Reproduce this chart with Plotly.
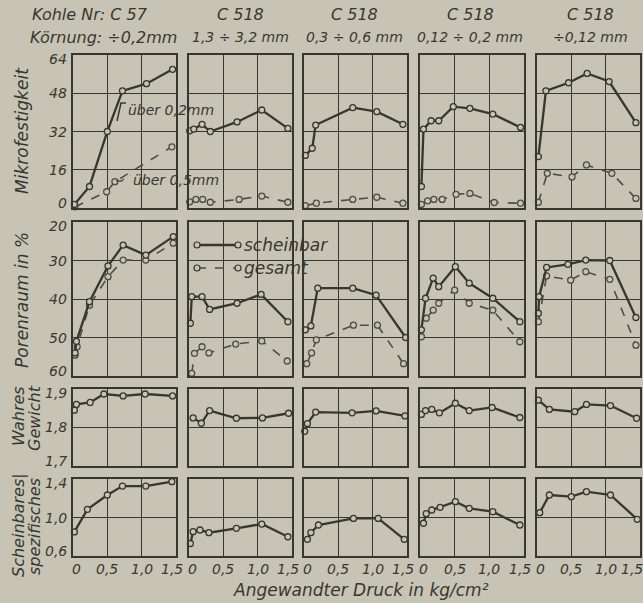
import plotly.graph_objects as go

# ---------------- data ----------------
columns_title1 = ["Kohle Nr: C 57", "C 518", "C 518", "C 518", "C 518"]
columns_title2 = ["Körnung: ÷0,2mm", "1,3 ÷ 3,2 mm", "0,3 ÷ 0,6 mm", "0,12 ÷ 0,2 mm", "÷0,12 mm"]

x_ticks = [0, 0.5, 1.0, 1.5]
x_ticktext = ["0", "0,5", "1,0", "1,5"]

# Row 1: Mikrofestigkeit, über 0,2 mm (solid)
mf02_x = [
    [0.02, 0.24, 0.5, 0.72, 1.07, 1.45],
    [0.01, 0.07, 0.19, 0.31, 0.70, 1.06, 1.44],
    [0.02, 0.12, 0.17, 0.71, 1.06, 1.44],
    [0.02, 0.05, 0.16, 0.27, 0.48, 0.72, 1.05, 1.45],
    [0.02, 0.13, 0.46, 0.73, 1.05, 1.44],
]
mf02_y = [
    [1.5, 9, 32, 49, 52, 58],
    [32.3, 33, 35, 32, 36, 41, 33.3],
    [22, 25, 34.7, 42, 40.3, 35],
    [9, 33, 36.5, 36.5, 42.4, 41.7, 39.3, 33.7],
    [21.5, 49, 52.4, 56.3, 52.9, 35.7],
]
# Row 1: Mikrofestigkeit, über 0,5 mm (dashed)
mf05_x = [
    [0.03, 0.49, 0.61, 1.44],
    [0.01, 0.1, 0.2, 0.31, 0.73, 1.06, 1.44],
    [0.02, 0.18, 0.71, 1.06, 1.44],
    [0.02, 0.11, 0.2, 0.32, 0.52, 0.72, 1.07, 1.45],
    [0.02, 0.15, 0.51, 0.72, 1.09, 1.44],
]
mf05_y = [
    [0.5, 6.8, 11, 25.6],
    [2.6, 3.6, 3.6, 2.4, 3.6, 5, 2.4],
    [1, 2, 3.6, 4.5, 2],
    [1.5, 3, 3.6, 3.6, 5.7, 6.1, 2.3, 2],
    [2.4, 14.5, 13, 18, 14.5, 4],
]
# Row 2: Porenraum scheinbar (solid)
ps_x = [
    [0.03, 0.05, 0.24, 0.51, 0.73, 1.06, 1.46],
    [0.02, 0.04, 0.19, 0.3, 0.7, 1.05, 1.44],
    [0.02, 0.1, 0.2, 0.71, 1.05, 1.48],
    [0.02, 0.08, 0.19, 0.27, 0.51, 0.71, 1.05, 1.44],
    [0.02, 0.03, 0.14, 0.45, 0.71, 1.06, 1.44],
]
ps_y = [
    [54, 51, 40.7, 31.4, 26, 28.6, 23.8],
    [46.3, 39.4, 39.4, 42.7, 41.1, 38.8, 45.9],
    [48, 47, 37.2, 37.2, 39, 50],
    [48, 39.8, 34.6, 36.8, 31.6, 35.9, 39.8, 45.9],
    [43.7, 39.4, 31.8, 31, 29.9, 30, 44.8],
]
# Row 2: Porenraum gesamt (dashed)
pg_x = [
    [0.03, 0.06, 0.24, 0.51, 0.73, 1.06, 1.46],
    [0.04, 0.08, 0.19, 0.29, 0.68, 1.06, 1.43],
    [0.04, 0.11, 0.18, 0.72, 1.07, 1.45],
    [0.02, 0.09, 0.19, 0.27, 0.5, 0.71, 1.05, 1.44],
    [0.02, 0.14, 0.49, 0.71, 1.06, 1.44],
]
pg_y = [
    [54.6, 52.4, 41.6, 34.2, 29.9, 29.9, 25.5],
    [59.3, 54.1, 52.4, 54, 51.7, 50.9, 56.1],
    [56.8, 54, 50.6, 46.8, 46.8, 56.8],
    [49.8, 45, 42.9, 41.1, 37.7, 41.1, 42.9, 51.1],
    [45.9, 34, 35.1, 32.9, 34.9, 52],
]
# Row 3: Wahres spezifisches Gewicht
wg_x = [
    [0.02, 0.05, 0.25, 0.45, 0.73, 1.05, 1.45],
    [0.06, 0.18, 0.3, 0.69, 1.07, 1.45],
    [0.01, 0.05, 0.17, 0.7, 1.05, 1.47],
    [0.02, 0.08, 0.17, 0.28, 0.51, 0.71, 1.04, 1.44],
    [0.02, 0.18, 0.55, 0.72, 1.07, 1.45],
]
wg_y = [
    [1.845, 1.86, 1.865, 1.887, 1.882, 1.887, 1.882],
    [1.825, 1.811, 1.844, 1.824, 1.825, 1.837],
    [1.79, 1.81, 1.84, 1.838, 1.843, 1.83],
    [1.834, 1.844, 1.847, 1.838, 1.863, 1.844, 1.852, 1.826],
    [1.871, 1.847, 1.841, 1.86, 1.857, 1.824],
]
# Row 4: Scheinbares spezifisches Gewicht
sg_x = [
    [0.02, 0.21, 0.5, 0.72, 1.06, 1.44],
    [0.02, 0.06, 0.16, 0.29, 0.69, 1.06, 1.44],
    [0.05, 0.1, 0.21, 0.72, 1.08, 1.46],
    [0.05, 0.09, 0.17, 0.29, 0.51, 0.71, 1.05, 1.44],
    [0.04, 0.18, 0.5, 0.72, 1.07, 1.46],
]
sg_y = [
    [0.85, 1.085, 1.234, 1.327, 1.327, 1.372],
    [0.73, 0.853, 0.87, 0.842, 0.888, 0.932, 0.80],
    [0.773, 0.842, 0.922, 0.99, 0.99, 0.773],
    [0.94, 1.04, 1.078, 1.106, 1.164, 1.095, 1.06, 0.922],
    [1.05, 1.234, 1.216, 1.268, 1.234, 0.981],
]

row_ranges = [[0, 64], [60, 20], [1.7, 1.9], [0.6, 1.4]]
row_tickvals = [[0, 16, 32, 48, 64], [20, 30, 40, 50, 60], [1.7, 1.8, 1.9], [0.6, 1.0, 1.4]]
row_ticktext = [["0", "16", "32", "48", "64"], ["20", "30", "40", "50", "60"],
                ["1,7", "1,8", "1,9"], ["0,6", "1,0", "1,4"]]

# ---------------- style / layout ----------------
W, H = 643, 603
BG = "#c7c4b5"
INK = "#38372f"
INK2 = "#4e4d45"
FONT = "DejaVu Sans"

col_px = [(73, 176), (189, 292), (304, 407), (420, 524), (537, 640)]
row_px = [(55, 208), (222, 376), (389, 466), (479, 556)]

fig = go.Figure()
layout = {}
annotations = []


def axname(k):
    return "" if k == 1 else str(k)


def it(s):
    return "<i>" + s + "</i>"


def add_series(k, xs, ys, dashed):
    fig.add_trace(go.Scatter(
        x=xs, y=ys, mode="lines+markers",
        xaxis="x" + axname(k), yaxis="y" + axname(k),
        line=dict(color=INK2 if dashed else INK, width=1.6 if dashed else 2.3,
                  dash="dash" if dashed else "solid"),
        marker=dict(symbol="circle", size=6, color=BG,
                    line=dict(color=INK2 if dashed else INK, width=1.3)),
        cliponaxis=False, showlegend=False, hoverinfo="skip"))


x_tick_shift = [3, 0, 0, -4]

for r in range(4):
    for c in range(5):
        k = r * 5 + c + 1
        x0, x1 = col_px[c]
        y0, y1 = row_px[r]
        layout["xaxis" + axname(k)] = dict(
            domain=[x0 / W, x1 / W], anchor="y" + axname(k), range=[0, 1.5],
            tickvals=x_ticks, showticklabels=False,
            showgrid=True, gridcolor=INK, gridwidth=1, zeroline=False,
            showline=True, mirror=True, linecolor=INK, linewidth=1.6, ticks="",
        )
        layout["yaxis" + axname(k)] = dict(
            domain=[1 - y1 / H, 1 - y0 / H], anchor="x" + axname(k), range=row_ranges[r],
            tickvals=row_tickvals[r], showticklabels=False,
            showgrid=True, gridcolor=INK, gridwidth=1, zeroline=False,
            showline=True, mirror=True, linecolor=INK, linewidth=1.6, ticks="",
        )
        if r == 3:
            for j, (tv, tt, sh) in enumerate(zip(x_ticks, x_ticktext, x_tick_shift)):
                if c == 4 and j == 3:
                    sh = -8
                annotations.append(dict(
                    text=it(tt), x=tv, xref="x" + axname(k), y=1 - 569 / H, yref="paper",
                    xanchor="center", yanchor="middle", xshift=sh, showarrow=False,
                    font=dict(family=FONT, size=14, color=INK)))
        if c == 0:
            for tv, tt in zip(row_tickvals[r], row_ticktext[r]):
                is_top = tv == (20 if r == 1 else max(row_ranges[r]))
                is_bot = tv == (60 if r == 1 else min(row_ranges[r]))
                sh = -4 if is_top else (5 if is_bot else 0)
                annotations.append(dict(
                    text=it(tt), x=69 / W, xref="paper", y=tv, yref="y" + axname(k),
                    xanchor="right", yanchor="middle", yshift=sh, showarrow=False,
                    font=dict(family=FONT, size=14, color=INK)))
        if r == 0:
            add_series(k, mf05_x[c], mf05_y[c], True)
            add_series(k, mf02_x[c], mf02_y[c], False)
        elif r == 1:
            add_series(k, pg_x[c], pg_y[c], True)
            add_series(k, ps_x[c], ps_y[c], False)
        elif r == 2:
            add_series(k, wg_x[c], wg_y[c], False)
        else:
            add_series(k, sg_x[c], sg_y[c], False)


def ptext(text, x, y, xanchor="center", textangle=0, size=16):
    annotations.append(dict(text=it(text), x=x / W, y=1 - y / H, xref="paper", yref="paper",
                            xanchor=xanchor, yanchor="middle", showarrow=False,
                            textangle=textangle,
                            font=dict(family=FONT, size=size, color=INK)))


# column titles
ptext(columns_title1[0], 30, 14, "left", size=16)
ptext(columns_title2[0], 28, 37, "left", size=16)
for c, cx in zip(range(1, 5), [240, 354, 470, 590]):
    ptext(columns_title1[c], cx, 14, size=16)
    ptext(columns_title2[c], cx, 37, size=14)

# y axis titles
ptext("Mikrofestigkeit", 22, 131, textangle=-90, size=17)
ptext("Porenraum in %", 22, 300, textangle=-90, size=17)
ptext("Wahres", 18, 416, textangle=-90, size=16)
ptext("Scheinbares|", 18, 525, textangle=-90, size=16)
ptext("Gewicht", 34, 418, textangle=-90, size=16)
ptext("spezifisches", 34, 527, textangle=-90, size=16)

# x axis title
ptext("Angewandter Druck in kg/cm²", 361, 590, size=17)

# series labels in first panel
ptext("über 0,2mm", 126, 110, "left", size=14)
ptext("über 0,5mm", 131, 180, "left", size=14)
shapes = [
    dict(type="path", xref="paper", yref="paper",
         path=f"M {117/W} {1-121/H} L {121/W} {1-103/H} L {126/W} {1-103/H}",
         line=dict(color=INK, width=1.5)),
    dict(type="path", xref="paper", yref="paper",
         path=f"M {116/W} {1-181/H} L {122/W} {1-181/H} L {126/W} {1-175/H} L {131/W} {1-175/H}",
         line=dict(color=INK2, width=1.3, dash="dash")),
]

# legend in second column, row 2
for yy, dashed, label in [(245, False, "scheinbar"), (268, True, "gesamt")]:
    shapes.append(dict(type="line", xref="paper", yref="paper",
                       x0=197 / W, x1=238 / W, y0=1 - yy / H, y1=1 - yy / H,
                       line=dict(color=INK2 if dashed else INK, width=1.6 if dashed else 2.3,
                                 dash="dash" if dashed else "solid")))
    for xx in (197, 238):
        shapes.append(dict(type="circle", xref="paper", yref="paper",
                           x0=(xx - 3) / W, x1=(xx + 3) / W,
                           y0=1 - (yy + 3) / H, y1=1 - (yy - 3) / H,
                           fillcolor=BG, line=dict(color=INK, width=1.2)))
    ptext(label, 242, yy, "left", size=17)

layout.update(
    width=W, height=H, margin=dict(l=0, r=0, t=0, b=0), autosize=False,
    paper_bgcolor=BG, plot_bgcolor=BG, showlegend=False,
    annotations=annotations, shapes=shapes,
    font=dict(family=FONT, color=INK),
)
fig.update_layout(**layout)
fig.write_html(
    "out.html",
    config={"displayModeBar": False, "responsive": False},
    post_script=("document.body.style.margin='0';document.body.style.padding='0';"
                 "document.body.style.overflow='hidden';"
                 "var gd=document.getElementById('{plot_id}');"
                 "Plotly.relayout(gd,{width:643,height:603});"),
)
